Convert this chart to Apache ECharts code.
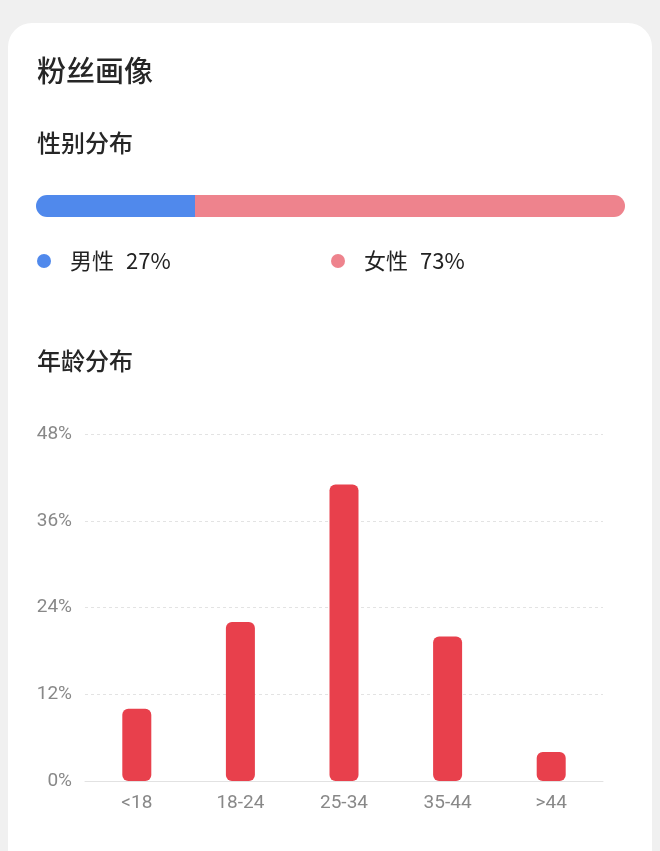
<!DOCTYPE html>
<html>
<head>
<meta charset="utf-8">
<style>
  html, body { margin: 0; padding: 0; background: #f0f0f0; }
  #chart { width: 660px; height: 851px; }
</style>
<script src="https://cdn.jsdelivr.net/npm/echarts@6/dist/echarts.min.js"></script>
</head>
<body>
<div id="chart"></div>
<script>
// ---- data ----
const genderNames = ['男性', '女性'];
const genderValues = [27, 73];
const ageCategories = ['<18', '18-24', '25-34', '35-44', '>44'];
const ageValues = [10, 22, 41, 20, 4];
const yTicks = [0, 12, 24, 36, 48];

const FONT = '"Noto Sans CJK SC", "Noto Sans", Roboto, sans-serif';
const NUMFONT = 'Roboto, "Noto Sans CJK SC", sans-serif';
const genderColors = ['#5089ec', '#ee838d'];

const chart = echarts.init(document.getElementById('chart'), null, { renderer: 'canvas' });

const legendFmt = n => '{n|' + n + '}{v|' + genderValues[genderNames.indexOf(n)] + '%}';
const legendText = {
  padding: [0, 0, 0, 14],
  fontFamily: FONT, fontSize: 22, color: '#222',
  rich: {
    n: { fontFamily: FONT, fontSize: 22, color: '#222' },
    v: { fontFamily: FONT, fontSize: 22, color: '#222', padding: [0, 0, 0, 12] }
  }
};

const option = {
  animation: false,
  backgroundColor: 'transparent',
  graphic: [
    { type: 'rect', z: -10, shape: { x: 8, y: 23, width: 644, height: 860, r: 24 }, style: { fill: '#ffffff' } }
  ],
  title: [
    { text: '粉丝画像', left: 32, top: 51, textStyle: { fontFamily: FONT, fontSize: 29, fontWeight: 500, color: '#262626' } },
    { text: '性别分布', left: 32, top: 126, textStyle: { fontFamily: FONT, fontSize: 24, fontWeight: 500, color: '#262626' } },
    { text: '年龄分布', left: 32, top: 344, textStyle: { fontFamily: FONT, fontSize: 24, fontWeight: 500, color: '#262626' } }
  ],
  legend: [
    {
      data: [genderNames[0]], left: 32, top: 245, icon: 'circle', itemWidth: 14, itemHeight: 14,
      formatter: legendFmt, textStyle: legendText
    },
    {
      data: [genderNames[1]], left: 326, top: 245, icon: 'circle', itemWidth: 14, itemHeight: 14,
      formatter: legendFmt, textStyle: legendText
    }
  ],
  grid: [
    { left: 36, top: 195, width: 589, height: 22 },
    { left: 85, right: 57, top: 434, bottom: 70 }
  ],
  xAxis: [
    { gridIndex: 0, type: 'value', min: 0, max: 100, show: false },
    {
      gridIndex: 1, type: 'category', data: ageCategories,
      axisLine: { lineStyle: { color: '#e2e2e2', width: 1 } },
      axisTick: { show: false },
      axisLabel: { color: '#888', fontFamily: NUMFONT, fontSize: 19, margin: 13 }
    }
  ],
  yAxis: [
    { gridIndex: 0, type: 'category', data: ['性别'], show: false },
    {
      gridIndex: 1, type: 'value', min: yTicks[0], max: yTicks[yTicks.length - 1], interval: yTicks[1] - yTicks[0],
      axisLine: { show: false }, axisTick: { show: false },
      axisLabel: { color: '#888', fontFamily: NUMFONT, fontSize: 19, margin: 13, formatter: '{value}%' },
      splitLine: { lineStyle: { color: '#e3e3e3', type: [3, 3], width: 1 } }
    }
  ],
  series: [
    {
      name: genderNames[0], type: 'bar', stack: 'g', xAxisIndex: 0, yAxisIndex: 0,
      data: [genderValues[0]], barWidth: 22,
      itemStyle: { color: genderColors[0], borderRadius: [11, 0, 0, 11] }
    },
    {
      name: genderNames[1], type: 'bar', stack: 'g', xAxisIndex: 0, yAxisIndex: 0,
      data: [genderValues[1]], barWidth: 22,
      itemStyle: { color: genderColors[1], borderRadius: [0, 11, 11, 0] }
    },
    {
      name: '年龄', type: 'bar', xAxisIndex: 1, yAxisIndex: 1,
      data: ageValues, barWidth: 29,
      itemStyle: { color: '#e8404c', borderRadius: 6 }
    }
  ]
};
chart.setOption(option);
</script>
</body>
</html>
